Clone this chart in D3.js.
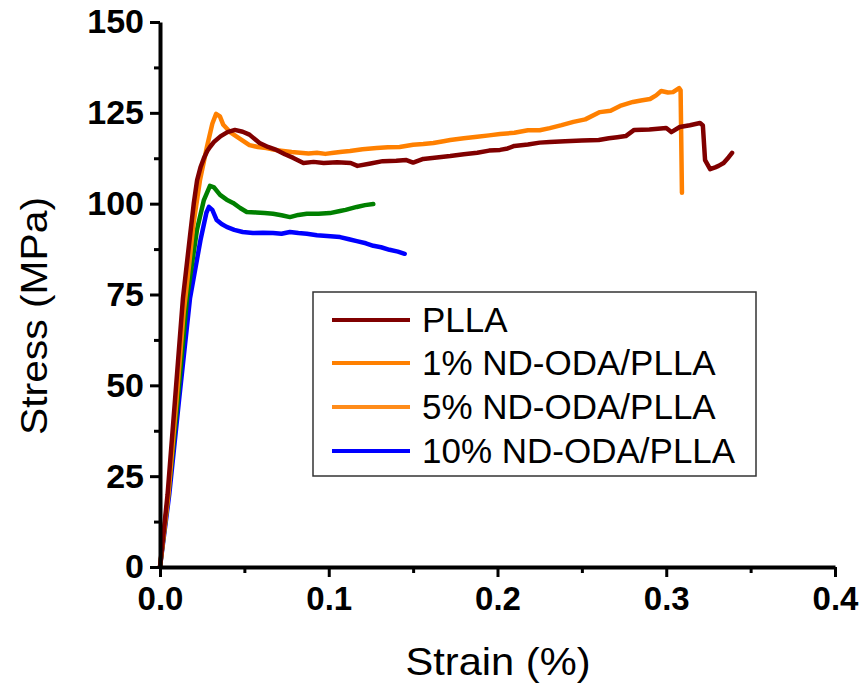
<!DOCTYPE html>
<html><head><meta charset="utf-8">
<script src="https://cdn.jsdelivr.net/npm/d3@7/dist/d3.min.js"></script>
<style>body{margin:0;background:#fff}svg{display:block}text{font-family:"Liberation Sans",Arial,sans-serif}</style>
</head><body>
<svg id="chart" width="862" height="685"></svg>
<script>
// ---- data ----
const seriesNames = ["PLLA", "1% ND-ODA/PLLA", "5% ND-ODA/PLLA", "10% ND-ODA/PLLA"];
const lineColors = ["#800000", "#FF8000", "#008000", "#0000FF"];
const legendColors = ["#800000", "#FF8000", "#FF8C1A", "#0000FF"];

const pllaStrain = [0,0.0045,0.0089,0.0136,0.018,0.020,0.022,0.024,0.026,0.028,0.0296,0.032,0.036,0.040,0.0444,0.049,0.053,0.059,0.064,0.069,0.074,0.079,0.085,0.091,0.097,0.105,0.113,0.117,0.124,0.132,0.140,0.146,0.150,0.156,0.164,0.172,0.180,0.188,0.195,0.2015,0.206,0.210,0.218,0.225,0.231,0.240,0.250,0.260,0.266,0.271,0.276,0.281,0.290,0.300,0.303,0.308,0.314,0.320,0.3217,0.323,0.326,0.329,0.331,0.334,0.337,0.339];
const pllaStress = [0,20,46,74,92,100,106.5,110,112.5,114.5,115.6,117,118.6,119.7,120.3,119.8,119,116.7,115.6,114.8,113.6,112.6,111.2,111.5,111.2,111.4,111.2,110.4,111.0,111.7,111.8,112,111.3,112.3,112.7,113.1,113.6,114.0,114.6,114.8,115.2,115.9,116.3,116.8,117,117.2,117.4,117.5,118.0,118.3,118.6,120.3,120.4,120.8,119.7,121.1,121.6,122.2,121.5,112,109.5,110,110.4,111.2,112.8,114];

const nd1Strain = [0,0.005,0.0098,0.014,0.0165,0.020,0.0237,0.0278,0.031,0.0332,0.0355,0.0375,0.0415,0.047,0.053,0.058,0.063,0.068,0.073,0.078,0.083,0.088,0.093,0.098,0.103,0.108,0.1126,0.120,0.1284,0.135,0.142,0.150,0.156,0.162,0.168,0.172,0.180,0.188,0.195,0.2015,0.210,0.218,0.225,0.231,0.238,0.245,0.252,0.2607,0.267,0.2726,0.2803,0.2850,0.2904,0.294,0.297,0.301,0.304,0.3076,0.3085,0.3093];
const nd1Stress = [0,20,46,70,80,95,106.5,115.6,122,124.7,124,121.7,119.7,118,116.1,115.6,115.3,114.8,114.5,114.2,114,113.8,114,113.7,114,114.3,114.5,115,115.3,115.5,115.6,116.2,116.4,116.7,117.2,117.5,118,118.4,118.8,119.2,119.5,120.2,120.2,120.8,121.6,122.5,123.2,125.2,125.6,126.9,128,128.4,128.8,129.8,131,130.6,130.7,131.8,131.2,103];

const nd5Strain = [0,0.005,0.0105,0.016,0.0219,0.026,0.0296,0.032,0.0356,0.0395,0.0433,0.0475,0.0514,0.057,0.062,0.067,0.072,0.077,0.082,0.087,0.094,0.1007,0.1067,0.110,0.1166,0.1215,0.1264];
const nd5Stress = [0,20,46,74,92.8,101,104.9,104.5,102.4,101.1,100.2,98.8,97.7,97.6,97.4,97.2,96.8,96.3,96.9,97.2,97.2,97.4,98,98.3,99.1,99.6,99.9];

const nd10Strain = [0,0.0055,0.0113,0.0178,0.024,0.0275,0.029,0.031,0.0336,0.0365,0.0395,0.044,0.049,0.055,0.061,0.067,0.072,0.077,0.082,0.087,0.093,0.099,0.1067,0.112,0.1166,0.122,0.1264,0.131,0.136,0.141,0.145];
const nd10Stress = [0,20,46,74,90,97.5,99.1,98.3,95.5,94.4,93.6,92.8,92.2,91.9,92,91.9,91.7,92.2,91.9,91.7,91.3,91.1,90.8,90.2,89.7,89.1,88.4,88,87.3,86.8,86.2];

const xTicks = [0, 0.1, 0.2, 0.3, 0.4];
const xTickLabels = ["0.0", "0.1", "0.2", "0.3", "0.4"];
const xMinorTicks = [0.05, 0.15, 0.25, 0.35];
const yTicks = [0, 25, 50, 75, 100, 125, 150];
const yMinorTicks = [12.5, 37.5, 62.5, 87.5, 112.5, 137.5];

// ---- chart ----
const svg = d3.select("#chart");
const x = d3.scaleLinear().domain([0, 0.4]).range([160, 835]);
const y = d3.scaleLinear().domain([0, 150]).range([567, 22]);

const seriesData = [
  d3.zip(pllaStrain, pllaStress),
  d3.zip(nd1Strain, nd1Stress),
  d3.zip(nd5Strain, nd5Stress),
  d3.zip(nd10Strain, nd10Stress)
];

const line = d3.line().x(d => x(d[0])).y(d => y(d[1]));
[3, 2, 1, 0].forEach(i => {
  svg.append("path").datum(seriesData[i]).attr("d", line)
    .attr("fill", "none").attr("stroke", lineColors[i])
    .attr("stroke-width", 4.5).attr("stroke-linejoin", "round").attr("stroke-linecap", "round");
});

// axes
function styleAxis(g, w) {
  g.select(".domain").attr("stroke", "#000").attr("stroke-width", 4);
  g.selectAll(".tick line").attr("stroke", "#000").attr("stroke-width", w);
}
const gxMinor = svg.append("g").attr("transform", "translate(0,567)")
  .call(d3.axisBottom(x).tickValues(xMinorTicks).tickSize(6).tickFormat(""));
styleAxis(gxMinor, 3); gxMinor.select(".domain").remove();
const gyMinor = svg.append("g").attr("transform", "translate(160,0)")
  .call(d3.axisLeft(y).tickValues(yMinorTicks).tickSize(6).tickFormat(""));
styleAxis(gyMinor, 3); gyMinor.select(".domain").remove();

const gx = svg.append("g").attr("transform", "translate(0,567)")
  .call(d3.axisBottom(x).tickValues(xTicks).tickSize(10).tickSizeOuter(0)
    .tickFormat((d, i) => xTickLabels[i]).tickPadding(10));
styleAxis(gx, 3);
gx.selectAll(".tick text").attr("font-size", 33).attr("font-weight", "bold")
  .attr("fill", "#000").attr("font-family", "'Liberation Sans', Arial, sans-serif");

const gy = svg.append("g").attr("transform", "translate(160,0)")
  .call(d3.axisLeft(y).tickValues(yTicks).tickSize(10).tickSizeOuter(0).tickPadding(6));
styleAxis(gy, 3);
gy.selectAll(".tick text").attr("font-size", 34).attr("font-weight", "bold")
  .attr("fill", "#000").attr("font-family", "'Liberation Sans', Arial, sans-serif");

// axis titles
svg.append("text").attr("x", 498).attr("y", 675).attr("text-anchor", "middle")
  .attr("font-size", 39).attr("textLength", 185).attr("lengthAdjust", "spacingAndGlyphs")
  .text("Strain (%)");
svg.append("text").attr("transform", "translate(47,316) rotate(-90)")
  .attr("text-anchor", "middle").attr("font-size", 36)
  .attr("textLength", 238).attr("lengthAdjust", "spacingAndGlyphs").text("Stress (MPa)");

// legend
const lg = svg.append("g");
lg.append("rect").attr("x", 313).attr("y", 292).attr("width", 443).attr("height", 184)
  .attr("fill", "#fff").attr("stroke", "#333").attr("stroke-width", 1.5);
const rowY = [320, 363, 407, 451];
seriesNames.forEach((n, i) => {
  lg.append("line").attr("x1", 332).attr("x2", 410).attr("y1", rowY[i]).attr("y2", rowY[i])
    .attr("stroke", legendColors[i]).attr("stroke-width", 4);
  lg.append("text").attr("x", 422).attr("y", rowY[i] + 12).attr("font-size", 35).text(n);
});
</script>
</body></html>
